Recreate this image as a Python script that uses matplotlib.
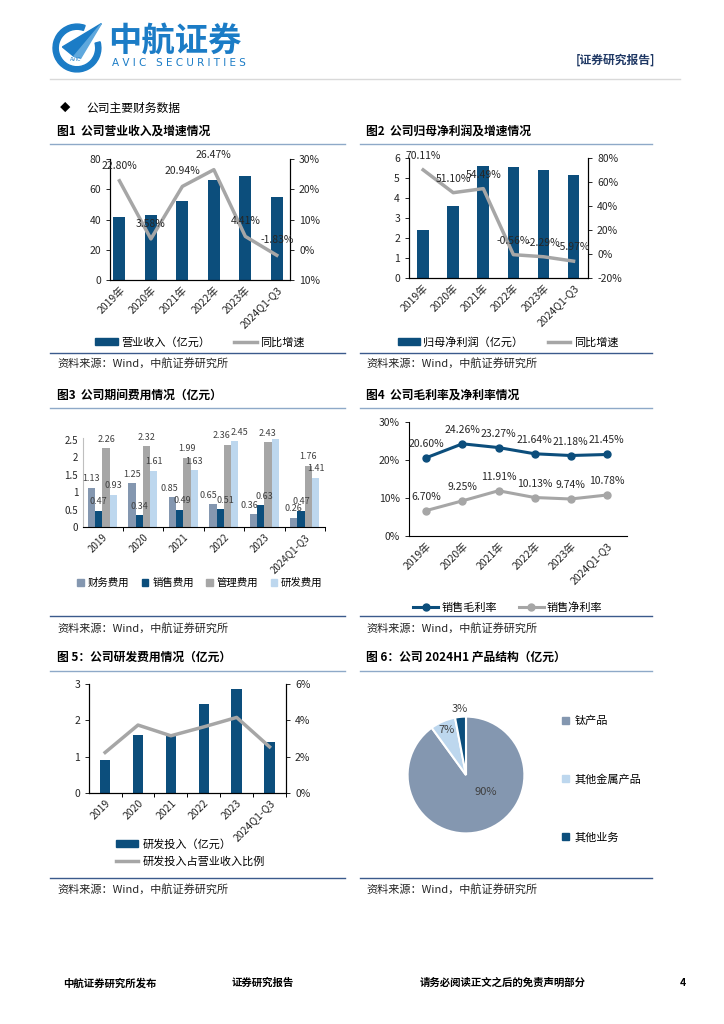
import matplotlib
matplotlib.use('Agg')
import matplotlib.pyplot as plt
import numpy as np
from matplotlib.lines import Line2D
from matplotlib.patches import Patch, Wedge, Polygon

plt.rcParams['font.family'] = ['Noto Sans CJK SC', 'DejaVu Sans']
plt.rcParams['axes.unicode_minus'] = False

# ---- data ----
years = ['2019年', '2020年', '2021年', '2022年', '2023年', '2024Q1-Q3']
years_plain = ['2019', '2020', '2021', '2022', '2023', '2024Q1-Q3']

revenue = [41.5, 43.0, 52.0, 66.0, 69.0, 55.0]
revenue_yoy = [22.80, 3.58, 20.94, 26.47, 4.41, -1.83]

net_profit = [2.38, 3.62, 5.58, 5.55, 5.42, 5.15]
profit_yoy = [70.11, 51.10, 54.49, -0.56, -2.29, -5.97]

fee_names = ['财务费用', '销售费用', '管理费用', '研发费用']
fee_finance = [1.13, 1.25, 0.85, 0.65, 0.36, 0.26]
fee_sales = [0.47, 0.34, 0.49, 0.51, 0.63, 0.47]
fee_admin = [2.26, 2.32, 1.99, 2.36, 2.43, 1.76]
fee_rd = [0.93, 1.61, 1.63, 2.45, 2.52, 1.41]

gross_margin = [20.60, 24.26, 23.27, 21.64, 21.18, 21.45]
net_margin = [6.70, 9.25, 11.91, 10.13, 9.74, 10.78]

rd_invest = [0.91, 1.60, 1.60, 2.45, 2.87, 1.40]
rd_ratio = [2.23, 3.74, 3.15, 3.64, 4.16, 2.54]

pie_names = ['钛产品', '其他金属产品', '其他业务']
pie_share = [90, 7, 3]

# ---- style ----
W, H = 724, 1024
DB = '#0C4E7C'
GR = '#A6A6A6'
GB = '#8497B0'
LB = '#BDD7EE'
TXT = '#262626'
RULE_TOP = '#8EA9C8'
RULE_BOT = '#3B5A8C'
BLUE = '#1B7CC6'

fig = plt.figure(figsize=(7.24, 10.24), dpi=100)


def rect(l, t, r, b):
    return [l / W, 1 - b / H, (r - l) / W, (b - t) / H]


def fx(x):
    return x / W


def fy(y):
    return 1 - y / H


def hline(x0, x1, y, color, lw=1.0):
    fig.add_artist(Line2D([fx(x0), fx(x1)], [fy(y), fy(y)], color=color, lw=lw))


def style_ax(ax, right=False):
    ax.spines['top'].set_visible(False)
    if not right:
        ax.spines['right'].set_visible(False)
    for s in ax.spines.values():
        s.set_linewidth(0.8)
        s.set_color('black')
    ax.tick_params(labelsize=7.5, colors=TXT, length=3, width=0.7)


def xlabels(ax, labels):
    ax.set_xticks(np.arange(len(labels)))
    ax.set_xticklabels(labels, rotation=45, ha='right', va='top',
                       rotation_mode='anchor', fontsize=7.5, color=TXT)
    ax.tick_params(axis='x', length=0)


def label_points(ax, xs, ys, texts, dy=15, size=7.5):
    for xv, yv, t in zip(xs, ys, texts):
        ax.annotate(t, (xv, yv), xytext=(0, dy), textcoords='offset pixels',
                    ha='center', va='center', fontsize=size, color=TXT)


# ---- header ----
lax = fig.add_axes(rect(52, 22, 104, 74))
lax.set_xlim(0, 1)
lax.set_ylim(0, 1)
lax.axis('off')
lax.add_patch(Wedge((0.48, 0.5), 0.46, 70, 375, width=0.1, color=BLUE))
lax.add_patch(Polygon([[0.2, 0.52], [0.95, 0.97], [0.42, 0.34]], color=BLUE))
lax.add_patch(Polygon([[0.42, 0.34], [0.95, 0.97], [0.55, 0.3]], color='#5FA8DD'))
lax.text(0.45, 0.27, 'AVIC', fontsize=3.5, color=BLUE, ha='center', va='center',
         family='DejaVu Sans')

fig.text(fx(108), fy(42), '中航证券', fontsize=24, fontweight='bold', color=BLUE,
         ha='left', va='center')
fig.text(fx(112), fy(63), 'A V I C   S E C U R I T I E S', fontsize=7.5,
         color=BLUE, ha='left', va='center', family='DejaVu Sans')
fig.text(fx(655), fy(60), '[证券研究报告]', fontsize=8.5, fontweight='bold',
         color='#1F3864', ha='right', va='center')
hline(50, 680, 79, '#D9D9D9', 1.0)

fig.text(fx(60), fy(108), '◆', fontsize=7.5, color='black', ha='left', va='center')
fig.text(fx(86), fy(108), '公司主要财务数据', fontsize=8.5, color='black',
         ha='left', va='center')

# ---- section titles and rules ----
titles = [
    (57, 131, '图1  公司营业收入及增速情况'),
    (366, 131, '图2  公司归母净利润及增速情况'),
    (57, 395, '图3  公司期间费用情况（亿元）'),
    (366, 395, '图4  公司毛利率及净利率情况'),
    (57, 657, '图 5：公司研发费用情况（亿元）'),
    (366, 657, '图 6：公司 2024H1 产品结构（亿元）'),
]
for tx, ty, t in titles:
    fig.text(fx(tx), fy(ty), t, fontsize=8.5, fontweight='bold', color='black',
             ha='left', va='center')

for y_top, y_bot, y_src in [(144, 353, 363), (408, 616, 628), (671, 878, 889)]:
    hline(50, 345, y_top, RULE_TOP, 1.0)
    hline(360, 652, y_top, RULE_TOP, 1.0)
    hline(50, 345, y_bot, RULE_BOT, 1.0)
    hline(360, 652, y_bot, RULE_BOT, 1.0)
    fig.text(fx(57), fy(y_src), '资料来源：Wind，中航证券研究所', fontsize=8,
             color=TXT, ha='left', va='center')
    fig.text(fx(366), fy(y_src), '资料来源：Wind，中航证券研究所', fontsize=8,
             color=TXT, ha='left', va='center')

x = np.arange(len(years))

# ---- chart 1 ----
ax1 = fig.add_axes(rect(110, 159, 290, 280))
ax1.bar(x, revenue, width=0.38, color=DB, zorder=2)
ax1.set_ylim(0, 80)
ax1.set_yticks([0, 20, 40, 60, 80])
ax1.set_xlim(-0.3, 5.42)
style_ax(ax1, right=True)
xlabels(ax1, years)
ax1b = ax1.twinx()
ax1b.plot(x, revenue_yoy, color=GR, lw=2.5, zorder=3)
ax1b.set_ylim(-10, 30)
ax1b.set_yticks([-10, 0, 10, 20, 30])
ax1b.set_yticklabels(['10%', '0%', '10%', '20%', '30%'])
style_ax(ax1b, right=True)
label_points(ax1b, x, revenue_yoy, ['%.2f%%' % v for v in revenue_yoy])
fig.legend(handles=[Patch(color=DB, label='营业收入（亿元）'),
                    Line2D([], [], color=GR, lw=2.5, label='同比增速')],
           loc='center', bbox_to_anchor=(fx(200), fy(342)), ncol=2, frameon=False,
           fontsize=8, handlelength=2.0, handleheight=0.6, columnspacing=2.2,
           handletextpad=0.3)

# ---- chart 2 ----
ax2 = fig.add_axes(rect(409, 158, 588, 278))
ax2.bar(x, net_profit, width=0.39, color=DB, zorder=2)
ax2.set_ylim(0, 6)
ax2.set_yticks(range(7))
ax2.set_xlim(-0.47, 5.48)
style_ax(ax2, right=True)
xlabels(ax2, years)
ax2b = ax2.twinx()
ax2b.plot(x, profit_yoy, color=GR, lw=2.5, zorder=3)
ax2b.set_ylim(-20, 80)
ax2b.set_yticks([-20, 0, 20, 40, 60, 80])
ax2b.set_yticklabels(['-20%', '0%', '20%', '40%', '60%', '80%'])
style_ax(ax2b, right=True)
label_points(ax2b, x, profit_yoy, ['%.2f%%' % v for v in profit_yoy], dy=14)
fig.legend(handles=[Patch(color=DB, label='归母净利润（亿元）'),
                    Line2D([], [], color=GR, lw=2.5, label='同比增速')],
           loc='center', bbox_to_anchor=(fx(508), fy(342)), ncol=2, frameon=False,
           fontsize=8, handlelength=2.0, handleheight=0.6, columnspacing=2.2,
           handletextpad=0.3)

# ---- chart 3 ----
ax3 = fig.add_axes(rect(83, 438, 325, 527))
bw = 0.18
fee_series = [fee_finance, fee_sales, fee_admin, fee_rd]
fee_colors = [GB, DB, GR, LB]
# small sideways nudges (pixels) for crowded labels: (series, category) -> dx
nudge = {(2, 3): -6, (3, 3): 5, (0, 4): -4, (1, 4): 4,
         (0, 3): -5, (1, 3): 5, (0, 2): -3, (1, 2): 3}
for k, (vals, col, name) in enumerate(zip(fee_series, fee_colors, fee_names)):
    pos = x + (k - 1.5) * bw
    ax3.bar(pos, vals, width=bw, color=col, label=name, zorder=2)
    for i, (p, v) in enumerate(zip(pos, vals)):
        if k == 3 and i == 4:
            continue
        ax3.annotate('%.2f' % v, (p, v), xytext=(nudge.get((k, i), 0), 9),
                     textcoords='offset pixels', ha='center', va='center',
                     fontsize=6.5, color='#404040')
ax3.set_ylim(0, 2.55)
ax3.set_yticks([0, 0.5, 1, 1.5, 2, 2.5])
ax3.set_yticklabels(['0', '0.5', '1', '1.5', '2', '2.5'])
ax3.set_xlim(-0.48, 5.4)
style_ax(ax3)
ax3.spines['left'].set_color('#BFBFBF')
ax3.tick_params(axis='y', length=0, labelsize=7)
ax3.set_xticks(np.arange(len(years_plain)))
ax3.set_xticklabels(years_plain, rotation=45, ha='right', va='top',
                    rotation_mode='anchor', fontsize=7, color=TXT)
ax3.set_xticks(np.arange(len(years_plain)) + 0.5, minor=True)
ax3.tick_params(axis='x', which='major', length=0)
ax3.tick_params(axis='x', which='minor', length=3, width=0.7)
fig.legend(handles=[Patch(color=c, label=n) for c, n in zip(fee_colors, fee_names)],
           loc='center', bbox_to_anchor=(fx(200), fy(583)), ncol=4, frameon=False,
           fontsize=7.5, handlelength=0.6, handleheight=0.6, columnspacing=1.2,
           handletextpad=0.4)

# ---- chart 4 ----
ax4 = fig.add_axes(rect(409, 422, 627, 536))
ax4.plot(x, gross_margin, color=DB, lw=2.2, marker='o', ms=5, label='销售毛利率')
ax4.plot(x, net_margin, color=GR, lw=2.2, marker='o', ms=5, label='销售净利率')
ax4.set_ylim(0, 30)
ax4.set_yticks([0, 10, 20, 30])
ax4.set_yticklabels(['0%', '10%', '20%', '30%'])
ax4.set_xlim(-0.48, 5.56)
style_ax(ax4)
xlabels(ax4, years)
label_points(ax4, x, gross_margin, ['%.2f%%' % v for v in gross_margin], dy=14)
label_points(ax4, x, net_margin, ['%.2f%%' % v for v in net_margin], dy=14)
fig.legend(handles=ax4.get_lines(), loc='center', bbox_to_anchor=(fx(508), fy(608)),
           ncol=2, frameon=False, fontsize=8, handlelength=2.2,
           columnspacing=2.0, handletextpad=0.3)

# ---- chart 5 ----
ax5 = fig.add_axes(rect(89, 684, 286, 793))
ax5.bar(x, rd_invest, width=0.32, color=DB, zorder=2, label='研发投入（亿元）')
ax5.set_ylim(0, 3)
ax5.set_yticks([0, 1, 2, 3])
ax5.set_xlim(-0.49, 5.5)
style_ax(ax5, right=True)
ax5.set_xticks(x)
ax5.set_xticklabels(years_plain, rotation=45, ha='right', va='top',
                    rotation_mode='anchor', fontsize=7.5, color=TXT)
ax5.set_xticks(x + 0.5, minor=True)
ax5.tick_params(axis='x', which='major', length=0)
ax5.tick_params(axis='x', which='minor', length=3, width=0.7)
ax5b = ax5.twinx()
ax5b.plot(x, rd_ratio, color=GR, lw=2.5, label='研发投入占营业收入比例')
ax5b.set_ylim(0, 6)
ax5b.set_yticks([0, 2, 4, 6])
ax5b.set_yticklabels(['0%', '2%', '4%', '6%'])
style_ax(ax5b, right=True)
fig.legend(handles=[Patch(color=DB, label='研发投入（亿元）'),
                    Line2D([], [], color=GR, lw=2.5, label='研发投入占营业收入比例')],
           loc='center left', bbox_to_anchor=(fx(106), fy(853)), ncol=1,
           frameon=False, fontsize=8, handlelength=2.0, handleheight=0.6,
           labelspacing=0.6, handletextpad=0.4)

# ---- chart 6 ----
ax6 = fig.add_axes(rect(393, 702, 539, 848))
pie_colors = [GB, LB, DB]
wedges, _, autotexts = ax6.pie(pie_share, colors=pie_colors, startangle=90,
                               counterclock=False, autopct='%d%%',
                               wedgeprops=dict(edgecolor='white', linewidth=1.5),
                               textprops=dict(fontsize=8, color='#404040'))
ax6.set_aspect('equal')
for t, pos in zip(autotexts, [(0.33, -0.29), (-0.34, 0.77), (-0.11, 1.13)]):
    t.set_position(pos)
fig.legend(handles=[Patch(color=c, label=n) for c, n in zip(pie_colors, pie_names)],
           loc='center left', bbox_to_anchor=(fx(552), fy(779)), ncol=1,
           frameon=False, fontsize=8, handlelength=0.6, handleheight=0.6,
           labelspacing=4.3, handletextpad=0.5)

# ---- footer ----
for fxp, t in [(63, '中航证券研究所发布'), (232, '证券研究报告'),
               (420, '请务必阅读正文之后的免责声明部分'), (680, '4')]:
    fig.text(fx(fxp), fy(983), t, fontsize=7.5, fontweight='bold', color='black',
             ha='left', va='center')

fig.savefig('out.png', dpi=100)
